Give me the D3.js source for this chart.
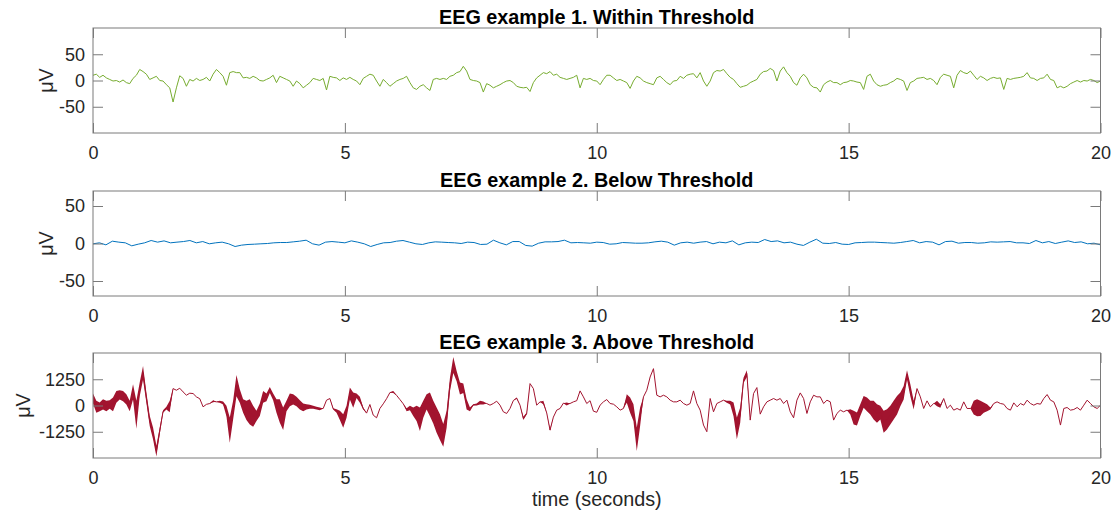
<!DOCTYPE html>
<html>
<head>
<meta charset="utf-8">
<script src="https://cdn.jsdelivr.net/npm/d3@7"></script>
<style>
  html, body { margin: 0; padding: 0; background: #ffffff; }
  svg { display: block; }
  text { font-family: "Liberation Sans", Arial, Helvetica, sans-serif; }
</style>
</head>
<body>
<svg id="chart" width="1117" height="511"></svg>
<script>
// ---------------- data ----------------
const timeSpan = [0, 20];               // seconds
const xTicks = [0, 5, 10, 15, 20];

const titles = [
  "EEG example 1. Within Threshold",
  "EEG example 2. Below Threshold",
  "EEG example 3. Above Threshold"
];
const yLabel = "\u03bcV";
const xLabel = "time (seconds)";

const yLim1 = [-100, 100];
const yLim2 = [-70, 70];
const yLim3 = [-2500, 2500];
const yTicks1 = [-50, 0, 50];
const yTicks2 = [-50, 0, 50];
const yTicks3 = [-1250, 0, 1250];

// Example 1 (µV), uniformly sampled over 0-20 s
const eeg1 = [
  10,12,6,10,5,2,-1,0,-3,1,
  -4,-6,4,10,21,17,12,2,5,8,
  0,-1,-8,-14,-41,-14,9,4,-11,2,
  -1,4,0,2,6,-1,12,21,15,8,
  -9,15,17,15,15,5,6,4,8,5,
  0,-1,2,5,10,-4,8,5,2,-1,
  -11,-1,-6,-14,-9,-4,4,2,0,4,
  -18,8,6,5,0,5,2,6,2,-1,
  -8,4,8,12,10,-1,-11,2,-4,-11,
  -6,-1,2,4,8,-4,-14,-17,-11,-8,
  -14,-19,2,4,2,4,2,8,10,15,
  17,27,18,2,0,-1,-4,-22,-6,-9,
  -14,-11,-8,-4,-1,0,-4,-11,-13,-14,
  -13,-21,-4,5,10,15,13,17,10,12,
  6,4,2,4,6,10,-14,4,2,4,
  0,-1,
  -8,2,10,10,5,0,2,-1,-4,-15,
  -1,8,5,-1,-4,-6,-8,5,8,2,
  -4,-8,-1,0,8,4,10,12,13,5,
  15,-1,-11,-1,15,19,18,21,13,6,
  2,-6,-13,-11,-9,-4,-1,2,12,17,
  18,23,19,-1,18,26,15,8,-4,-9,
  5,12,5,-8,-13,-14,-22,-8,-3,0,
  -4,-4,-8,-4,-3,0,-1,-3,-4,-17,
  8,12,-1,-8,-11,-9,-8,-4,-1,4,
  2,-1,-19,-4,-1,4,5,6,2,4,
  0,-8,6,12,10,8,-14,10,19,15,
  13,18,10,2,8,5,0,4,6,4,
  5,-17,4,2,4,5,6,8,15,5,
  4,0,4,5,12,2,0,-14,-11,-14,
  -11,-6,-3,0,-3,0,-1,2,0,-4,
  -1
];

// Example 2 (µV), uniformly sampled over 0-20 s
const eeg2 = [
  -0.4,0.9,-1.8,3.1,1.8,0.9,-3.1,-0.9,0.9,4.0,
  1.8,3.5,0.9,1.8,2.6,4.0,0.9,2.6,-0.4,0.9,
  1.8,-0.4,-4.0,-2.2,-1.3,-0.9,-0.4,0,0.9,1.3,
  1.3,2.2,3.1,4.4,-0.4,-2.2,1.8,2.6,1.8,0.9,
  3.5,1.8,-0.4,-4.0,-1.3,0.9,1.3,3.1,4.0,1.8,
  -0.4,-1.3,0.9,2.2,1.8,1.3,0.9,0,1.8,1.3,
  -1.3,-0.9,4.4,0.9,-1.8,2.6,2.6,-2.6,-3.5,0.4,
  2.2,2.2,2.6,4.4,0.9,1.3,0.9,0.4,1.8,1.3,
  -0.9,-0.4,1.3,0.9,0.4,0.4,0.9,2.2,3.1,1.8,
  -2.2,0.9,1.8,0.4,1.8,2.6,-0.4,1.8,0.9,3.5,
  -1.8,0.9,1.8,1.3,5.3,2.6,3.5,0.9,1.8,-0.9,
  -2.6,1.8,5.7,0.4,0,1.3,-0.9,-1.3,0.9,1.3,
  1.8,1.8,1.3,0.9,0.4,1.3,2.6,4.0,0.9,2.6,
  1.8,-1.8,2.6,3.1,0.4,1.3,1.3,0.4,0.9,2.2,
  1.8,2.2,2.6,0.9,0.9,0,4.0,0.9,2.6,0,
  1.8,3.5,1.3,2.2,-0.4,0.4,-1.8
];

// Example 3 (µV): slow trace and the half-amplitude of the fast oscillation riding on it
const eeg3 = [
  332,-63,-63,55,-24,47,55,411,506,450,
  292,-24,648,-442,766,1556,371,-735,-1327,-2173,
  -1209,-284,-126,-47,806,727,822,648,490,585,
  569,411,324,-63,55,95,205,174,174,119,
  -261,-1169,-221,948,450,-24,-237,-300,-514,-498,
  -205,411,387,743,411,-24,-261,-632,-24,269,
  292,190,32,-87,-63,-63,-87,-126,-158,-142,
  253,332,-158,-261,-474,-735,-300,569,253,466,
  269,-142,-363,47,-458,-585,-142,79,324,616,
  648,482,284,79,-197,-118,-300,-379,-656,-182,
  174,55,-316,-695,-1027,-1422,-656,1003,1928,1398,
  806,822,55,-182,32,47,134,119,95,16,
  95,205,16,-300,-379,-142,237,348,16,-616,
  -379,1043,806,16,174,134,-355,-1169,-553,-221,
  -142,111,71,95,174,229,695,411,95,229,
  -269,-324,
  16,174,284,95,63,-63,-221,-142,332,16,
  -340,-1604,-537,411,727,1359,1754,490,411,490,
  411,253,174,174,253,95,16,95,695,95,
  -221,-932,-1248,332,-300,95,174,253,174,134,
  -182,-1090,-458,1201,1517,-695,569,853,-411,-63,
  174,253,332,253,332,95,253,-300,-585,253,
  600,332,-379,174,490,411,411,95,253,174,
  -695,-379,-221,-300,-221,-300,-577,-640,-221,174,
  55,-103,-221,-379,-340,-774,-656,-458,-221,16,
  292,608,1454,727,16,806,411,-142,221,-63,
  95,95,-24,332,-142,16,-221,-142,-221,174,
  -142,-142,-103,-103,-142,-103,-103,-142,95,174,
  95,63,-142,-221,126,-63,95,16,253,95,
  16,95,63,332,521,253,174,-221,-932,-142,
  -95,-221,-190,-95,-221,16,253,95,-63,-142,
  16
];
const eeg3Fast = [
  237,284,205,245,245,205,324,284,221,245,
  245,245,363,664,324,324,245,245,284,261,
  166,63,63,269,0,0,0,0,0,0,
  0,0,0,0,0,0,47,0,47,71,
  245,600,442,506,324,324,458,600,498,245,
  300,284,182,142,158,324,561,537,245,300,
  245,221,221,182,126,95,71,63,63,0,
  0,0,32,87,221,324,284,284,363,103,
  142,47,0,0,0,0,0,0,0,0,
  47,0,0,0,71,103,205,363,561,403,
  363,561,537,600,616,537,403,324,379,245,
  284,221,245,87,32,47,87,71,0,0,
  0,0,0,0,0,0,0,32,0,79,
  47,0,0,0,0,87,0,47,0,0,
  0,0,71,0,0,0,0,0,0,0,
  0,0,
  0,0,0,0,0,0,0,0,205,363,
  403,561,442,0,0,0,0,0,0,0,
  0,0,0,0,0,0,0,0,0,0,
  0,0,0,0,0,0,0,0,47,87,
  324,521,363,126,158,0,0,0,0,0,
  0,0,0,0,0,0,0,0,0,0,
  0,0,0,0,0,0,0,0,0,0,
  0,0,0,0,0,126,324,308,284,284,
  324,324,442,442,324,521,482,442,442,442,
  324,324,221,284,205,0,0,0,0,0,
  0,126,87,0,0,0,0,0,0,0,
  0,0,324,403,363,245,166,47,0,0,
  0,0,0,0,0,0,0,0,0,0,
  0,0,0,0,0,0,0,0,0,0,
  0,0,0,0,0,0,0,0,0,0,
  0
];

// ---------------- layout & style ----------------
const W = 1117, H = 511;
const plotLeft = 93, plotRight = 1100.5;
const panelTops = [28, 191, 353];
const panelH = 105;
const colors = ["#77AC30", "#0072BD", "#A2142F"];
const axisColor = "#7a7a7a";
const textColor = "#262626";
const tickLen = 10;
const tickFont = "18px";
const labelFont = "19.8px";
const fmt = d => String(d);   // plain hyphen-minus, as in the reference

const svg = d3.select("#chart");
svg.append("rect").attr("width", W).attr("height", H).attr("fill", "#ffffff");

const x = d3.scaleLinear().domain(timeSpan).range([plotLeft, plotRight]);

function timeOf(arr) {
  const dt = (timeSpan[1] - timeSpan[0]) / (arr.length - 1);
  return i => timeSpan[0] + i * dt;
}

const panels = [
  { data: eeg1, fast: null, yLim: yLim1, yTicks: yTicks1, ylabX: 46 },
  { data: eeg2, fast: null, yLim: yLim2, yTicks: yTicks2, ylabX: 46 },
  { data: eeg3, fast: eeg3Fast, yLim: yLim3, yTicks: yTicks3, ylabX: 23 }
];

panels.forEach((p, k) => {
  const top = panelTops[k], bottom = top + panelH;
  const y = d3.scaleLinear().domain(p.yLim).range([bottom, top]);
  const tOf = timeOf(p.data);
  const g = svg.append("g");

  const clipId = "clip" + k;
  svg.append("clipPath").attr("id", clipId)
    .append("rect").attr("x", plotLeft).attr("y", top)
    .attr("width", plotRight - plotLeft).attr("height", panelH);

  const traces = g.append("g").attr("clip-path", `url(#${clipId})`);

  if (p.fast) {
    const area = d3.area()
      .x((d, i) => x(tOf(i)))
      .y0((d, i) => y(d - p.fast[i]))
      .y1((d, i) => y(d + p.fast[i]));
    traces.append("path").datum(p.data)
      .attr("d", area)
      .attr("fill", colors[k]).attr("stroke", "none");
  }
  const line = d3.line().x((d, i) => x(tOf(i))).y(d => y(d));
  traces.append("path").datum(p.data)
    .attr("d", line)
    .attr("fill", "none")
    .attr("stroke", colors[k])
    .attr("stroke-width", 1)
    .attr("stroke-linejoin", "round");

  // axes (MATLAB-like box with inward ticks)
  const axB = d3.axisBottom(x).tickValues(xTicks).tickSizeInner(-tickLen).tickSizeOuter(0).tickPadding(13).tickFormat(fmt);
  const axT = d3.axisTop(x).tickValues(xTicks).tickSizeInner(-tickLen).tickSizeOuter(0).tickFormat("");
  const axL = d3.axisLeft(y).tickValues(p.yTicks).tickSizeInner(-tickLen).tickSizeOuter(0).tickPadding(8).tickFormat(fmt);
  const axR = d3.axisRight(y).tickValues(p.yTicks).tickSizeInner(-tickLen).tickSizeOuter(0).tickFormat("");

  const drawAxis = (ax, tr) => {
    const a = g.append("g").attr("transform", tr).call(ax);
    a.select(".domain").remove();
    a.selectAll(".tick line").attr("stroke", axisColor).attr("stroke-width", 1);
    a.selectAll(".tick text").attr("fill", textColor)
      .style("font-size", tickFont)
      .style("font-family", "'Liberation Sans', Arial, Helvetica, sans-serif");
    return a;
  };
  drawAxis(axB, `translate(0,${bottom})`);
  drawAxis(axT, `translate(0,${top})`);
  drawAxis(axL, `translate(${plotLeft},0)`);
  drawAxis(axR, `translate(${plotRight},0)`);

  g.append("rect")
    .attr("x", plotLeft).attr("y", top)
    .attr("width", plotRight - plotLeft).attr("height", panelH)
    .attr("fill", "none").attr("stroke", axisColor).attr("stroke-width", 1);

  // title
  g.append("text")
    .attr("x", (plotLeft + plotRight) / 2).attr("y", top - 4)
    .attr("text-anchor", "middle")
    .attr("fill", "#000")
    .style("font-size", labelFont).style("font-weight", "bold")
    .text(titles[k]);

  // y label
  g.append("text")
    .attr("transform", `translate(${p.ylabX},${(top + bottom) / 2}) rotate(-90)`)
    .attr("text-anchor", "middle")
    .attr("dy", "0.35em")
    .attr("fill", textColor)
    .style("font-size", labelFont)
    .text(yLabel);
});

svg.append("text")
  .attr("x", (plotLeft + plotRight) / 2).attr("y", 506)
  .attr("text-anchor", "middle")
  .attr("fill", textColor)
  .style("font-size", labelFont)
  .text(xLabel);
</script>
</body>
</html>
